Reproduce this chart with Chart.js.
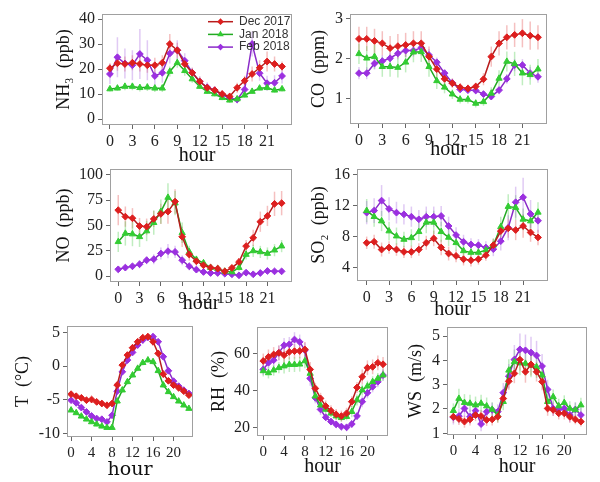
<!DOCTYPE html>
<html><head><meta charset="utf-8">
<script src="https://cdn.jsdelivr.net/npm/chart.js@4.4.0/dist/chart.umd.min.js"></script>
<style>
html,body{margin:0;padding:0;background:#fff;}
#wrap{position:relative;width:600px;height:482px;overflow:hidden;background:#fff;}
#wrap canvas{position:absolute;}
</style></head><body><div id="wrap"></div>
<script>
// ---------- DATA ----------
const hours = [0,1,2,3,4,5,6,7,8,9,10,11,12,13,14,15,16,17,18,19,20,21,22,23];
const seriesLabels = ['Dec 2017','Jan 2018','Feb 2018'];
const hourTicks3 = [0,3,6,9,12,15,18,21];
const hourTicks4 = [0,4,8,12,16,20];
const nh3Ticks = [0,10,20,30,40];
const coTicks = [1,2,3];
const noTicks = [0,25,50,75,100];
const so2Ticks = [4,8,12,16];
const tTicks = [-10,-5,0,5];
const rhTicks = [20,40,60];
const wsTicks = [1,2,3,4,5];

const nh3Dec = [20.3,22.3,22,22.5,22,21.5,21.5,22.5,30,27.5,22,18.5,15,12.5,11.5,10,9,12.5,15.3,18,20.5,23,22,21];
const nh3Jan = [12,12.3,13,13,12.5,12.7,12.3,12.3,19,22.5,19.3,16,13,11,10,8.5,7.5,8,9.5,11,12.3,12.5,11.5,12];
const nh3Feb = [18,24.7,22.2,21.5,26,23.5,17.2,18.5,26.2,27.5,23.3,18.5,15,12.7,11.5,9.7,8.3,7.8,11.8,30,18.3,14.3,14.5,17.2];
const nh3DecErr = [2,3,3,3,3,3,3,3,4,3,2,2,2,1.5,1.5,1.5,1.5,2,2,3,3,4,3,2];
const nh3JanErr = [1,1,1.5,1.5,1.5,1.5,1.5,1.5,2,2,2,1.5,1,1,1,1,1,1,1,1,1,1,1,1];
const nh3FebErr = [4,8,6,6,10,8,4,4,4,4,3,2,2,2,1.5,1.5,1.5,1.5,3,5,3,3,3,3];

const coDec = [2.49,2.49,2.44,2.38,2.26,2.31,2.34,2.38,2.38,2.05,1.74,1.5,1.39,1.29,1.26,1.31,1.49,2.05,2.38,2.53,2.59,2.63,2.57,2.53];
const coJan = [2.12,2.01,2.05,1.8,1.8,1.78,1.91,2.16,2.17,1.8,1.45,1.29,1.12,0.99,0.99,0.89,0.93,1.14,1.51,1.93,1.87,1.64,1.6,1.74];
const coFeb = [1.64,1.64,1.88,1.94,2.01,2.13,2.2,2.2,2.27,2.09,1.91,1.64,1.4,1.24,1.22,1.21,1.12,1.06,1.22,1.5,1.84,1.84,1.64,1.55];
const coDecErr = [0.3,0.3,0.3,0.3,0.3,0.3,0.3,0.3,0.3,0.25,0.2,0.15,0.12,0.1,0.1,0.1,0.15,0.25,0.3,0.3,0.3,0.35,0.35,0.3];
const coJanErr = [0.25,0.3,0.3,0.25,0.25,0.25,0.25,0.25,0.25,0.25,0.2,0.15,0.12,0.1,0.1,0.1,0.1,0.15,0.2,0.25,0.3,0.3,0.25,0.25];
const coFebErr = [0.15,0.15,0.15,0.15,0.15,0.15,0.15,0.15,0.15,0.15,0.12,0.1,0.1,0.08,0.08,0.08,0.08,0.08,0.1,0.12,0.15,0.15,0.15,0.15];

const noDec = [65,58.6,57,49.3,48.7,56.3,61.3,63.6,73.5,38.7,21.2,14.6,10.6,8.3,7.3,4.6,8,13.9,29.5,37.7,53.6,59.3,71.2,71.9];
const noJan = [33.8,42,41.4,38.7,44.4,52.6,63.6,77.5,71.9,42.7,23.8,16.2,12.9,8.3,7.3,4.6,4,8.3,21.2,24.8,23.8,22.2,25.5,29.5];
const noFeb = [6.6,8.3,9.6,11.6,15.6,16.6,22.2,24.5,23.8,15.6,9.6,6.3,4,3,3,2.3,1.7,0.7,3.3,1.7,3,5,4.6,4.6];
const noDecErr = [15,10,10,8,8,8,10,12,12,10,6,4,3,2,2,2,3,4,6,8,10,10,12,12];
const noJanErr = [10,12,12,10,10,12,12,14,12,10,6,4,3,2,2,2,2,3,5,6,6,6,6,6];
const noFebErr = [3,3,3,4,4,5,6,7,6,5,4,3,2,2,2,1,1,1,2,1,2,2,2,2];

const so2Dec = [7.24,7.37,6.37,6.63,6.37,6.07,6.07,6.37,7.24,7.8,6.63,5.86,5.55,5.12,4.99,5.12,5.64,6.93,8.75,9.1,8.88,9.4,8.57,7.93];
const so2Jan = [11.38,10.6,10.04,8.75,8.1,7.67,7.88,8.66,9.87,9.87,8.66,7.93,7.24,6.2,5.99,5.99,6.29,6.93,9.3,11.9,11.77,10.26,10.04,11.16];
const so2Feb = [11.12,11.38,12.67,11.6,11.12,10.9,10.6,10.26,10.6,10.6,10.69,9.4,8.23,7.37,7.02,6.93,6.63,6.42,7.45,9.18,12.46,13.1,10.95,10.08];
const so2DecErr = [0.8,0.9,0.9,0.8,0.8,0.8,0.8,0.8,0.9,1,1,0.9,0.8,0.8,0.8,0.7,0.7,0.8,1,1.2,1.3,1.5,1.2,1];
const so2JanErr = [1.5,1.3,1.3,1.2,1.1,1,1.1,1.2,1.4,1.5,1.3,1.1,1,0.8,0.7,0.7,0.7,0.9,1.3,1.6,1.6,1.4,1.3,1.3];
const so2FebErr = [1.5,1.6,2,1.5,1.4,1.3,1.3,1.2,1.3,1.3,1.3,1.2,1,0.9,0.8,0.8,0.8,0.9,1.2,1.6,2,2.5,1.8,1.5];

const tDec = [-4.16,-4.46,-4.7,-5.05,-4.95,-5.3,-5.54,-5.8,-5.54,-2.8,0.15,1.63,2.72,3.6,4.2,4.36,3.6,1.88,-1.19,-2.18,-2.82,-3.22,-3.71,-4.3];
const tJan = [-6.53,-6.93,-7.43,-7.87,-8.27,-8.61,-8.91,-9.11,-9.11,-5.2,-3.56,-2.33,-1.34,-0.35,0.5,0.89,0.64,-0.69,-2.82,-3.81,-4.55,-5.2,-5.79,-6.29];
const tFeb = [-5.05,-5.45,-6.14,-6.78,-7.38,-7.77,-7.87,-8.27,-7.28,-3.71,-0.84,0.89,2.03,3.12,3.86,4.26,4.36,3.6,1.39,-0.69,-2.23,-2.97,-3.56,-4.06];
const tDecErr = [0.4,0.4,0.4,0.4,0.4,0.4,0.4,0.4,0.4,0.5,0.5,0.5,0.5,0.5,0.5,0.5,0.5,0.5,0.5,0.4,0.4,0.4,0.4,0.4];
const tJanErr = [0.3,0.3,0.3,0.3,0.3,0.3,0.3,0.3,0.3,0.4,0.4,0.4,0.4,0.4,0.4,0.4,0.4,0.4,0.4,0.3,0.3,0.3,0.3,0.3];
const tFebErr = [0.4,0.4,0.4,0.4,0.4,0.4,0.4,0.4,0.4,0.5,0.5,0.5,0.5,0.5,0.5,0.5,0.5,0.5,0.5,0.4,0.4,0.4,0.4,0.4];

const rhDec = [56,58.2,59.5,60.4,59.1,60.9,61.3,61.4,62.2,51.4,41.1,35.7,31.5,29,27,26.1,27.6,33.9,41.6,47.4,52.3,52.8,55,54.2];
const rhJan = [50.6,49.5,51,52.3,53.2,54,54,54.2,56,49.2,36.9,32,29.7,27.6,26.1,25.2,25.8,28.5,34.8,40.2,42.3,44.7,46.5,48.3];
const rhFeb = [51.4,55,56.4,60.4,64.5,65,67.6,66.3,61.8,46.5,36,29.7,25.4,23.1,21.6,20.4,20,21.8,26.1,33.9,38.7,42,44.7,48.3];
const rhDecErr = [4,4,4,4,4,4,4,4,4,4,3,3,3,3,3,3,3,3,3,4,4,4,4,4];
const rhJanErr = [3,3,3,3,4,4,4,4,4,4,3,3,3,2,2,2,2,3,3,3,3,3,3,3];
const rhFebErr = [3,3,3,4,4,4,4,4,4,4,3,3,2,2,2,2,2,2,2,3,3,3,3,3];

const wsDec = [1.68,1.59,1.48,1.57,1.75,1.71,1.55,1.57,1.68,2.43,3.14,3.46,4.03,3.53,3.83,3.53,3.12,2.02,1.96,1.82,1.82,1.68,1.57,1.48];
const wsJan = [1.93,2.43,2.26,2.23,2.16,2.23,2.12,1.98,1.75,2.3,3.59,3.94,3.89,3.87,3.8,3.73,3.39,2.3,2.5,2.12,2.26,2.02,1.96,2.16];
const wsFeb = [1.66,1.71,2.02,1.68,1.93,1.38,1.89,1.96,1.89,2.67,3.35,4.03,4.45,4.41,4.32,4.2,3.76,2.8,2.02,1.98,2.02,1.75,1.98,1.75];
const wsDecErr = [0.25,0.25,0.25,0.25,0.25,0.25,0.25,0.25,0.25,0.3,0.35,0.4,0.45,0.45,0.45,0.4,0.35,0.3,0.25,0.25,0.25,0.25,0.2,0.2];
const wsJanErr = [0.3,0.4,0.35,0.35,0.35,0.35,0.35,0.3,0.3,0.35,0.45,0.5,0.5,0.5,0.5,0.45,0.4,0.35,0.3,0.3,0.3,0.3,0.3,0.3];
const wsFebErr = [0.3,0.3,0.35,0.3,0.3,0.3,0.3,0.3,0.3,0.4,0.5,0.6,0.65,0.65,0.65,0.6,0.5,0.4,0.3,0.3,0.3,0.3,0.3,0.3];

// ---------- STYLES ----------
const seriesStyles = [
  {line:'#b81c1c', fill:'#dd1f1f', err:'rgba(225,60,60,0.32)', shape:'rectRot', r:3.4},
  {line:'#22aa22', fill:'#33cc33', err:'rgba(60,200,60,0.32)', shape:'triangle', r:3.6},
  {line:'#8a2bc8', fill:'#9b30e0', err:'rgba(160,90,220,0.32)', shape:'rectRot', r:3.4}
];

// ---------- PANELS (layout) ----------
const panels = [
  {title:'NH\u2083  (ppb)', series:[nh3Dec,nh3Jan,nh3Feb], errs:[nh3DecErr,nh3JanErr,nh3FebErr], yTicks:nh3Ticks, yMin:-2.4, yMax:42, xMin:-1.06, xMax:24.33, xTicks:hourTicks3, box:[102,14,293,125], titleX:63.3, hourY:156, legend:true, hourFont:'s20'},
  {title:'CO  (ppm)', series:[coDec,coJan,coFeb], errs:[coDecErr,coJanErr,coFebErr], yTicks:coTicks, yMin:0.38, yMax:3.107, xMin:-1.15, xMax:24.16, xTicks:hourTicks3, box:[350,14,548,124], titleX:319, hourY:150, hourFont:'s20'},
  {title:'NO  (ppb)', series:[noDec,noJan,noFeb], errs:[noDecErr,noJanErr,noFebErr], yTicks:noTicks, yMin:-5.9, yMax:105.6, xMin:-1.16, xMax:24.46, xTicks:hourTicks3, box:[110,169,293,282], titleX:63.8, hourY:304, hourFont:'s20'},
  {title:'SO\u2082  (ppb)', series:[so2Dec,so2Jan,so2Feb], errs:[so2DecErr,so2JanErr,so2FebErr], yTicks:so2Ticks, yMin:2.32, yMax:16.74, xMin:-1.3, xMax:24.34, xTicks:hourTicks3, box:[357,169,549,281], titleX:319.2, hourY:309.5, hourFont:'s20'},
  {title:'T  (\u00B0C)', series:[tDec,tJan,tFeb], errs:[tDecErr,tJanErr,tFebErr], yTicks:tTicks, yMin:-10.5, yMax:5.94, xMin:-0.8, xMax:23.8, xTicks:hourTicks4, box:[67,326,194,437], titleX:22.5, hourY:470, hourFont:'d19', small:true},
  {title:'RH  (%)', series:[rhDec,rhJan,rhFeb], errs:[rhDecErr,rhJanErr,rhFebErr], yTicks:rhTicks, yMin:15.3, yMax:74.4, xMin:-1.2, xMax:23.95, xTicks:hourTicks4, box:[257,327,389,436], titleX:218.3, hourY:467, hourFont:'s20', small:true},
  {title:'WS  (m/s)', series:[wsDec,wsJan,wsFeb], errs:[wsDecErr,wsJanErr,wsFebErr], yTicks:wsTicks, yMin:0.93, yMax:5.37, xMin:-1.15, xMax:24.1, xTicks:hourTicks4, box:[447,327,588,435], titleX:415.8, hourY:467, hourFont:'s20', small:true}
];

// ---------- PLUGINS ----------
const errorBarPlugin = {
  id:'errorBars',
  beforeDatasetsDraw(chart){
    const {ctx, chartArea:a, scales:{x, y}} = chart;
    ctx.save();
    ctx.beginPath(); ctx.rect(a.left, a.top, a.right-a.left, a.bottom-a.top); ctx.clip();
    chart.data.datasets.forEach(ds => {
      ctx.strokeStyle = ds.errColor; ctx.lineWidth = 1.5;
      ds.data.forEach((pt, i) => {
        const e = ds.errors[i];
        const px = x.getPixelForValue(pt.x);
        ctx.beginPath();
        ctx.moveTo(px, y.getPixelForValue(pt.y - e));
        ctx.lineTo(px, y.getPixelForValue(pt.y + e));
        ctx.stroke();
      });
    });
    ctx.restore();
  }
};
const boxPlugin = {
  id:'boxFrame',
  afterDraw(chart){
    const {ctx, chartArea:a} = chart;
    ctx.save(); ctx.strokeStyle = '#a0a0a0'; ctx.lineWidth = 1;
    ctx.strokeRect(Math.round(a.left)+0.5, Math.round(a.top)+0.5, Math.round(a.right-a.left)-1, Math.round(a.bottom-a.top)-1);
    ctx.restore();
  }
};
const innerLegendPlugin = {
  id:'innerLegend',
  afterDraw(chart, args, opts){
    if (!opts || !opts.show) return;
    const {ctx, chartArea:a} = chart;
    ctx.save();
    chart.data.datasets.forEach((ds, i) => {
      const st = seriesStyles[i];
      const yy = a.top + 7.7 + i*12.7;
      const x0 = a.right - 84, x1 = a.right - 59;
      ctx.strokeStyle = st.line; ctx.lineWidth = 1.5;
      ctx.beginPath(); ctx.moveTo(x0, yy); ctx.lineTo(x1, yy); ctx.stroke();
      ctx.fillStyle = st.fill; ctx.strokeStyle = st.fill;
      Chart.helpers.drawPoint(ctx, {pointStyle: st.shape, radius: 2.3, borderWidth: 1}, (x0+x1)/2, yy);
      ctx.fillStyle = '#333'; ctx.font = '12px "Liberation Sans", Arial, sans-serif';
      ctx.textBaseline = 'middle'; ctx.textAlign = 'left';
      ctx.fillText(ds.label, a.right - 53, yy);
    });
    ctx.restore();
  }
};

// ---------- BUILD ----------
const wrap = document.getElementById('wrap');
const serif = '"Liberation Serif", "Times New Roman", serif';
const hourFonts = {s20:{family:serif, size:20}, d19:{family:'"DejaVu Serif", serif', size:19}};

panels.forEach(p => {
  const tSize = 18, tLH = tSize*1.2;
  const hourFont = hourFonts[p.hourFont];
  const hLH = hourFont.size*1.2;
  const tickSize = p.small ? 15 : 16;
  const left = Math.round(p.titleX - tLH/2);
  const top = p.box[1] - 14;
  const right = p.box[2] + 4;
  const bottom = Math.round(p.hourY + hLH/2);
  const W = right - left, H = bottom - top;
  const yW = p.box[0] - left, xH = bottom - p.box[3];

  const cv = document.createElement('canvas');
  cv.width = W; cv.height = H;
  cv.style.left = left + 'px'; cv.style.top = top + 'px';
  cv.style.width = W + 'px'; cv.style.height = H + 'px';
  wrap.appendChild(cv);

  const datasets = p.series.map((vals, i) => {
    const st = seriesStyles[i];
    return {
      label: seriesLabels[i],
      data: hours.map((h, k) => ({x:h, y:vals[k]})),
      errors: p.errs[i],
      errColor: st.err,
      borderColor: st.line,
      backgroundColor: st.fill,
      pointBackgroundColor: st.fill,
      pointBorderColor: st.fill,
      pointStyle: st.shape,
      pointRadius: st.r,
      pointBorderWidth: 1,
      borderWidth: 1.5,
      tension: 0,
      fill: false
    };
  });

  new Chart(cv, {
    type:'line',
    data:{datasets},
    options:{
      responsive:false, animation:false, devicePixelRatio:1,
      layout:{padding:{top:14, right:4, left:0, bottom:0}},
      plugins:{legend:{display:false}, tooltip:{enabled:false}, innerLegend:{show:!!p.legend}},
      scales:{
        x:{
          type:'linear', min:p.xMin, max:p.xMax,
          afterFit(s){ s.height = xH; },
          afterBuildTicks(s){ s.ticks = p.xTicks.map(v => ({value:v})); },
          ticks:{autoSkip:false, maxRotation:0, minRotation:0, padding:3, color:'#222', font:{family:serif, size:tickSize}},
          grid:{drawOnChartArea:false, drawTicks:true, tickLength:4, color:'#666'},
          border:{display:false},
          title:{display:true, text:'hour', color:'#111', font:hourFont, padding:0}
        },
        y:{
          type:'linear', min:p.yMin, max:p.yMax,
          afterFit(s){ s.width = yW; },
          afterBuildTicks(s){ s.ticks = p.yTicks.map(v => ({value:v})); },
          ticks:{autoSkip:false, padding:3, color:'#222', font:{family:serif, size:16}},
          grid:{drawOnChartArea:false, drawTicks:true, tickLength:4, color:'#666'},
          border:{display:false},
          title:{display:true, text:p.title, color:'#111', font:{family:serif, size:tSize}, padding:0}
        }
      }
    },
    plugins:[errorBarPlugin, boxPlugin, innerLegendPlugin]
  });
});
</script></body></html>
